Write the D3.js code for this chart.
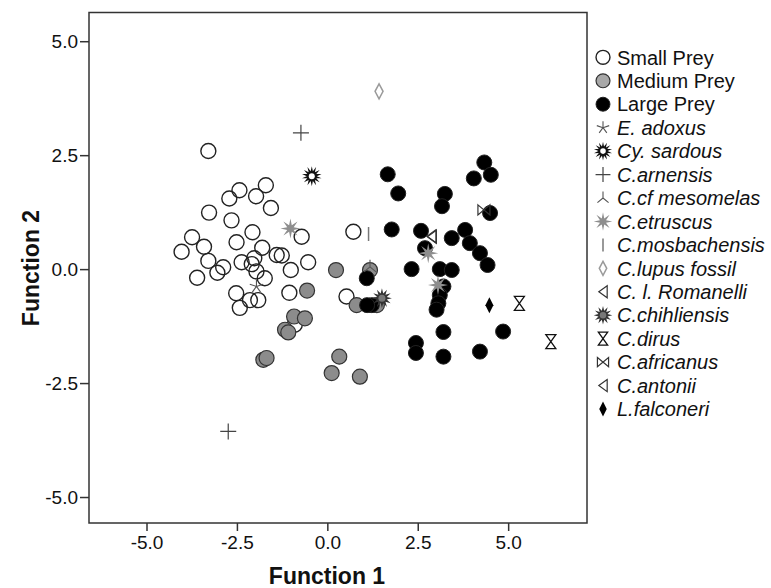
<!DOCTYPE html>
<html>
<head>
<meta charset="utf-8">
<script src="https://cdn.jsdelivr.net/npm/d3@7"></script>
<style>
  body { margin: 0; background: #fff; }
  svg { display: block; font-family: "Liberation Sans", Arial, sans-serif; }
</style>
</head>
<body>
<div id="chart"></div>
<script>
// scores (Function 1, Function 2)
const smallPrey = [
  [-3.29, 2.59], [-4.03, 0.38], [-3.74, 0.70], [-3.60, -0.19], [-3.41, 0.49],
  [-3.29, 0.18], [-3.27, 1.24], [-3.04, -0.08], [-2.88, 0.04], [-2.71, 1.55],
  [-2.65, 1.07], [-2.51, 0.59], [-2.52, -0.53], [-2.43, 1.73], [-2.42, -0.85],
  [-2.37, 0.15], [-2.14, -0.68], [-2.07, 0.81], [-2.02, 0.24], [-2.09, 0.11],
  [-1.96, -0.05], [-1.97, 1.60], [-1.91, -0.68], [-1.80, 0.47], [-1.73, -0.20],
  [-1.70, 1.84], [-1.56, 1.34], [-1.40, 0.31], [-1.26, 0.30], [-1.01, -0.02],
  [-1.05, -0.52], [-0.71, 0.71], [-0.53, 0.15], [0.72, 0.82], [0.53, -0.60],
  [-0.90, -1.22]
];
const mediumPrey = [
  [0.24, -0.02], [-0.56, -0.47], [-0.92, -1.04], [-0.62, -1.08], [-1.17, -1.33],
  [-1.08, -1.39], [-1.77, -1.99], [-1.68, -1.95], [0.33, -1.92], [0.12, -2.28],
  [0.90, -2.36], [0.81, -0.79], [1.18, -0.02], [1.37, -0.79]
];
const largePrey = [
  [1.67, 2.08], [1.96, 1.66], [3.25, 1.65], [3.17, 1.38], [4.05, 1.99],
  [4.34, 2.34], [4.52, 2.07], [4.50, 1.23], [1.78, 0.87], [2.59, 0.84],
  [2.70, 0.46], [3.44, 0.68], [3.81, 0.86], [3.94, 0.57], [4.22, 0.35],
  [4.43, 0.09], [2.33, 0.00], [3.11, 0.00], [3.44, -0.02], [3.21, -0.38],
  [3.11, -0.57], [3.07, -0.75], [3.02, -0.89], [3.21, -1.38], [2.45, -1.62],
  [2.45, -1.84], [3.21, -1.92], [4.22, -1.81], [4.86, -1.37], [1.09, -0.20],
  [1.23, -0.79], [1.10, -0.79]
];
const adoxus = [[-1.96, -0.38]];
const sardous = [[-0.43, 2.04]];
const arnensis = [[-0.73, 2.99], [-2.74, -3.56]];
const mesomelas = [[1.18, 0.05]];
const etruscus = [[-1.02, 0.89], [2.79, 0.35], [3.06, -0.35]];
const mosbachensis = [[1.14, 0.77]];
const lupusFossil = [[1.43, 3.90]];
const romanelli = [[2.89, 0.71]];
const chihliensis = [[1.51, -0.64]];
const dirus = [[5.31, -0.75], [6.18, -1.59]];
const africanus = [[4.33, 1.30]];
const antonii = [[2.88, 0.72]];
const falconeri = [[4.48, -0.79]];

const tickValues = [-5, -2.5, 0, 2.5, 5];
const legendLabels = ["Small Prey", "Medium Prey", "Large Prey", "E. adoxus", "Cy. sardous",
  "C.arnensis", "C.cf mesomelas", "C.etruscus", "C.mosbachensis", "C.lupus fossil",
  "C. l. Romanelli", "C.chihliensis", "C.dirus", "C.africanus", "C.antonii", "L.falconeri"];
const legendKinds = ["small", "medium", "large", "adoxus", "sardous", "arnensis", "mesomelas",
  "etruscus", "mosbachensis", "lupus", "romanelli", "chihliensis", "dirus", "africanus",
  "antonii", "falconeri"];

const W = 771, H = 588;
const plot = { left: 89, right: 587, top: 12.5, bottom: 523 };

const svg = d3.select("#chart").append("svg")
  .attr("width", W).attr("height", H);

const x = d3.scaleLinear().domain([-6.59, 7.18]).range([plot.left, plot.right]);
const y = d3.scaleLinear().domain([-5.57, 5.63]).range([plot.bottom, plot.top]);

// star path helper
function starPath(n, ro, ri) {
  let p = "";
  for (let i = 0; i < n * 2; i++) {
    const r = i % 2 ? ri : ro;
    const a = Math.PI * i / n - Math.PI / 2;
    p += (i ? "L" : "M") + (r * Math.cos(a)).toFixed(2) + "," + (r * Math.sin(a)).toFixed(2);
  }
  return p + "Z";
}
function asterisk(n, r) {
  let p = "";
  for (let i = 0; i < n; i++) {
    const a = 2 * Math.PI * i / n - Math.PI / 2;
    p += "M0,0L" + (r * Math.cos(a)).toFixed(2) + "," + (r * Math.sin(a)).toFixed(2);
  }
  return p;
}

// draws one marker kind into group g, scale k
function drawMarker(g, kind, k) {
  switch (kind) {
    case "small":
      g.append("circle").attr("r", 7.5 * k).attr("fill", "none").attr("stroke", "#222").attr("stroke-width", 1.4);
      break;
    case "medium":
      g.append("circle").attr("r", 7.5 * k).attr("fill", k < 1 ? "#a8a8a8" : "#8c8c8c").attr("stroke", "#333").attr("stroke-width", 1.2);
      break;
    case "large":
      g.append("circle").attr("r", 7.5 * k).attr("fill", "#000").attr("stroke", "#222").attr("stroke-width", 1);
      break;
    case "adoxus":
      g.append("path").attr("d", asterisk(5, 7 * k)).attr("stroke", "#555").attr("stroke-width", 1.1).attr("fill", "none");
      break;
    case "sardous":
      g.append("path").attr("d", starPath(14, 10 * k, 5 * k)).attr("fill", "#111");
      g.append("circle").attr("r", 3 * k).attr("fill", "#fff");
      break;
    case "arnensis":
      g.append("path").attr("d", `M${-8 * k},0H${8 * k}M0,${-8 * k}V${8 * k}`).attr("stroke", "#444").attr("stroke-width", 1.2);
      break;
    case "mesomelas":
      g.append("path").attr("d", `M0,0V${-7 * k}M0,0L${-6 * k},${5 * k}M0,0L${6 * k},${5 * k}`).attr("stroke", "#555").attr("stroke-width", 1.1).attr("fill", "none");
      break;
    case "etruscus":
      g.append("path").attr("d", starPath(8, 10 * k, 3.5 * k)).attr("fill", "#8e8e8e");
      break;
    case "mosbachensis":
      g.append("path").attr("d", `M0,${-7 * k}V${7 * k}`).attr("stroke", "#777").attr("stroke-width", 1.5);
      break;
    case "lupus":
      g.append("path").attr("d", `M0,${-7.5 * k}L${4 * k},0L0,${7.5 * k}L${-4 * k},0Z`).attr("fill", "none").attr("stroke", "#9a9a9a").attr("stroke-width", 1.5);
      break;
    case "romanelli":
    case "antonii":
      g.append("path").attr("d", `M${4.5 * k},${-6.5 * k}L${-4.5 * k},0L${4.5 * k},${6.5 * k}Z`).attr("fill", "none").attr("stroke", "#333").attr("stroke-width", 1.2);
      break;
    case "chihliensis":
      g.append("path").attr("d", starPath(12, 10 * k, 5 * k)).attr("fill", "#333");
      g.append("circle").attr("r", 3.5 * k).attr("fill", "#777");
      break;
    case "dirus":
      g.append("path").attr("d", `M${-5 * k},${-7 * k}H${5 * k}L${-5 * k},${7 * k}H${5 * k}Z`).attr("fill", "#fff").attr("stroke", "#111").attr("stroke-width", 1.3);
      break;
    case "africanus":
      g.append("path").attr("d", `M${-6 * k},${-5 * k}L${6 * k},${5 * k}V${-5 * k}L${-6 * k},${5 * k}Z`).attr("fill", "none").attr("stroke", "#333").attr("stroke-width", 1.2);
      break;
    case "falconeri":
      g.append("path").attr("d", `M0,${-8 * k}L${4 * k},0L0,${8 * k}L${-4 * k},0Z`).attr("fill", "#000");
      break;
  }
}

// plot frame
svg.append("rect")
  .attr("x", plot.left).attr("y", plot.top)
  .attr("width", plot.right - plot.left).attr("height", plot.bottom - plot.top)
  .attr("fill", "none").attr("stroke", "#333").attr("stroke-width", 1.5);

// axes
const xAxis = svg.append("g")
  .attr("transform", `translate(0,${plot.bottom})`)
  .call(d3.axisBottom(x).tickValues(tickValues).tickFormat(d => d.toFixed(1)).tickSize(8).tickPadding(5));
const yAxis = svg.append("g")
  .attr("transform", `translate(${plot.left},0)`)
  .call(d3.axisLeft(y).tickValues(tickValues).tickFormat(d => d.toFixed(1)).tickSize(9).tickPadding(2));
[xAxis, yAxis].forEach(a => {
  a.select(".domain").remove();
  a.selectAll(".tick line").attr("stroke", "#333").attr("stroke-width", 1.5);
  a.selectAll(".tick text").attr("fill", "#111").style("font-size", "19px")
    .style("font-family", "'Liberation Sans', Arial, sans-serif");
});

// axis titles
svg.append("text")
  .attr("x", 327).attr("y", 584)
  .attr("text-anchor", "middle")
  .style("font-size", "23px").style("font-weight", "bold").attr("fill", "#111")
  .text("Function 1");
svg.append("text")
  .attr("transform", "translate(39,268)rotate(-90)")
  .attr("text-anchor", "middle")
  .style("font-size", "23px").style("font-weight", "bold").attr("fill", "#111")
  .text("Function 2");

// points
const series = [
  ["small", smallPrey], ["medium", mediumPrey], ["large", largePrey],
  ["adoxus", adoxus], ["sardous", sardous], ["arnensis", arnensis],
  ["mesomelas", mesomelas], ["etruscus", etruscus], ["mosbachensis", mosbachensis],
  ["lupus", lupusFossil], ["romanelli", romanelli], ["chihliensis", chihliensis],
  ["dirus", dirus], ["africanus", africanus], ["antonii", antonii], ["falconeri", falconeri]
];
const pts = svg.append("g");
series.forEach(([kind, data]) => {
  pts.selectAll(null)
    .data(data)
    .enter()
    .append("g")
    .attr("transform", d => `translate(${x(d[0])},${y(d[1])})`)
    .each(function() { drawMarker(d3.select(this), kind, 1); });
});

// legend
const legX = 603, legTextX = 617, legY0 = 57.3, legStep = 23.45;
const leg = svg.append("g");
legendLabels.forEach((lab, i) => {
  const row = leg.append("g").attr("transform", `translate(0,${legY0 + i * legStep})`);
  const s = row.append("g").attr("transform", `translate(${legX},0)`);
  drawMarker(s, legendKinds[i], 0.93);
  row.append("text")
    .attr("x", legTextX).attr("y", 0).attr("dy", "0.36em")
    .style("font-size", "20px")
    .style("font-style", i < 3 ? "normal" : "italic")
    .attr("fill", "#111")
    .text(lab);
});
</script>
</body>
</html>
